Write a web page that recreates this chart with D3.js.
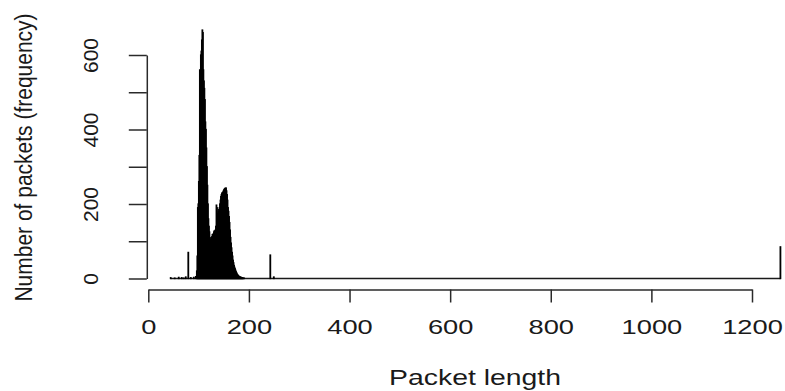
<!DOCTYPE html>
<html>
<head>
<meta charset="utf-8">
<script src="https://cdn.jsdelivr.net/npm/d3@7/dist/d3.min.js"></script>
<style>
  html, body { margin: 0; padding: 0; background: #fff; }
  svg { display: block; }
  text { font-family: "Liberation Sans", Arial, Helvetica, sans-serif; fill: #1a1a1a; }
</style>
</head>
<body>
<svg id="chart" width="785" height="391"></svg>
<script>
// ---- data ----
const packetLength = [
  44, 52, 60, 66, 70, 74, 79, 84, 90, 94,
  96, 97, 98, 99, 100, 101, 102, 103, 104, 105, 106, 107, 108, 109, 110,
  111, 112, 113, 114, 115, 116, 117, 118, 119, 120, 121, 122, 123, 124, 125,
  126, 127, 128, 129, 130, 131, 132, 133, 134, 135, 136, 137, 138, 139, 140,
  141, 142, 143, 144, 145, 146, 147, 148, 149, 150, 151, 152, 153, 154, 155,
  156, 157, 158, 159, 160, 161, 162, 163, 164, 165, 166, 167, 168, 169, 170,
  171, 172, 173, 174, 175, 176, 177, 178, 179, 180, 181, 182, 183, 184, 185,
  186, 187, 188, 190,
  242, 249, 1256
];
const frequency = [
  2, 1, 3, 2, 1, 4, 70, 2, 3, 5,
  20, 60, 190, 200, 260, 330, 560, 540, 600, 610, 640, 667, 660, 560, 530,
  510, 480, 420, 400, 350, 300, 250, 200, 160, 140, 125, 110, 105, 103, 108,
  112, 118, 115, 120, 125, 128, 121, 130, 140, 197, 190, 170, 175, 180, 185,
  190, 200, 210, 220, 225, 229, 230, 232, 235, 238, 240, 242, 240, 243, 235,
  225, 210, 190, 180, 166, 150, 130, 110, 95, 82, 70, 60, 49, 42, 35,
  30, 26, 22, 18, 15, 12, 10, 8, 7, 5, 4, 4, 3, 3, 2,
  2, 1, 1, 1,
  63, 4, 85
];
const xTicks = [0, 200, 400, 600, 800, 1000, 1200];
const yTicks = [0, 100, 200, 300, 400, 500, 600];
const yLabelled = [0, 200, 400, 600];
const xTitle = "Packet length";
const yTitle = "Number of packets (frequency)";

// ---- layout ----
const svg = d3.select("#chart");
const x = d3.scaleLinear().domain([0, 1200]).range([148.3, 752]);
const y = d3.scaleLinear().domain([0, 600]).range([278.5, 55]);
const axisColor = "#2a2a2a";
const fmt = d3.format("d");

const bins = packetLength.map((v, i) => ({ v, c: frequency[i] }));
const minLen = d3.min(packetLength), maxLen = d3.max(packetLength);

// zero-height bins across the whole range (R hist baseline)
svg.append("line")
  .attr("x1", x(minLen)).attr("x2", x(maxLen + 1))
  .attr("y1", y(0)).attr("y2", y(0))
  .attr("stroke", "#1a1a1a").attr("stroke-width", 1.6);

// histogram bins
svg.append("g").selectAll("rect").data(bins).join("rect")
  .attr("x", d => x(d.v))
  .attr("width", d => x(d.v + 1) - x(d.v))
  .attr("y", d => y(d.c))
  .attr("height", d => y(0) - y(d.c))
  .attr("fill", "#000")
  .attr("stroke", "#000")
  .attr("stroke-width", 1.3);

// x axis
const gx = svg.append("g").attr("transform", "translate(0,289.5)")
  .call(d3.axisBottom(x).tickValues(xTicks).tickSize(13).tickSizeOuter(0).tickFormat(fmt));
gx.select(".domain").attr("stroke", axisColor).attr("stroke-width", 1.5);
gx.selectAll(".tick line").attr("stroke", axisColor).attr("stroke-width", 1.5);
gx.selectAll(".tick text")
  .attr("y", 0).attr("dy", 0)
  .attr("transform", "translate(0,44.5) scale(1.3,1)")
  .attr("font-size", 21)
  .attr("text-anchor", "middle")
  .style("fill", "#1a1a1a");

// y axis
const gy = svg.append("g").attr("transform", "translate(146.8,0)")
  .call(d3.axisLeft(y).tickValues(yTicks).tickSize(18).tickSizeOuter(0)
    .tickFormat(d => yLabelled.includes(d) ? fmt(d) : ""));
gy.select(".domain").attr("stroke", axisColor).attr("stroke-width", 1.5);
gy.selectAll(".tick line").attr("stroke", axisColor).attr("stroke-width", 1.5);
gy.selectAll(".tick text")
  .attr("x", 0).attr("dy", 0)
  .attr("transform", "translate(-48.8,0) rotate(-90)")
  .attr("font-size", 21)
  .attr("text-anchor", "middle")
  .style("fill", "#1a1a1a");

// titles
svg.append("text")
  .attr("transform", "translate(475,385) scale(1.29,1)")
  .attr("text-anchor", "middle")
  .attr("font-size", 22)
  .text(xTitle);

svg.append("text")
  .attr("transform", "translate(32,157.5) scale(1.13,1) rotate(-90)")
  .attr("text-anchor", "middle")
  .attr("font-size", 21)
  .text(yTitle);
</script>
</body>
</html>
